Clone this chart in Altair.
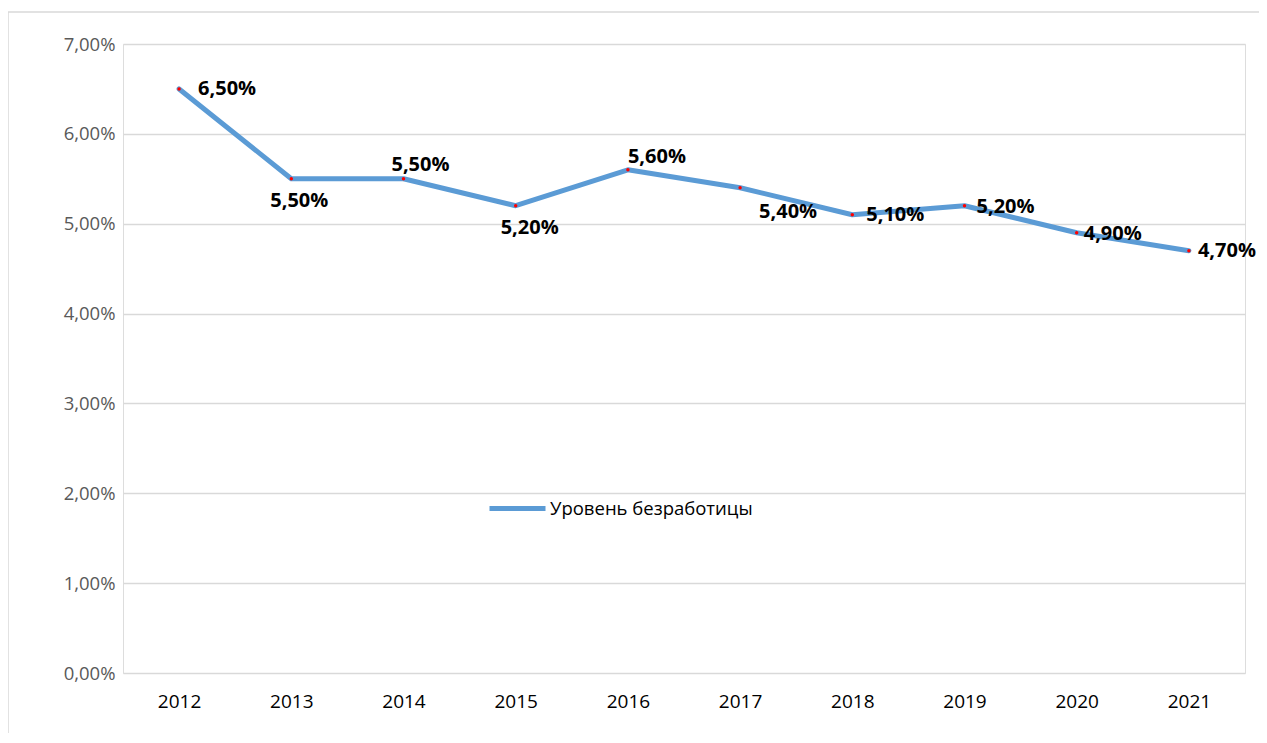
import altair as alt
import pandas as pd

years = ["2012", "2013", "2014", "2015", "2016", "2017", "2018", "2019", "2020", "2021"]
rates = [0.065, 0.055, 0.055, 0.052, 0.056, 0.054, 0.051, 0.052, 0.049, 0.047]
series_name = "Уровень безработицы"
y_ticks = [0, 0.01, 0.02, 0.03, 0.04, 0.05, 0.06, 0.07]

df = pd.DataFrame({"year": years, "rate": rates, "series": [series_name] * len(years)})

W, H = 1122, 629
FONT = "Open Sans"

x = alt.X("year:N", sort=years, title=None,
          scale=alt.Scale(type="point", padding=0.5),
          axis=alt.Axis(labelAngle=0, ticks=False, domain=False, grid=False,
                        labelPadding=19, labelFontSize=19, labelColor="#000000", labelFont=FONT))
y = alt.Y("rate:Q", title=None,
          scale=alt.Scale(domain=[0, 0.07], nice=False),
          axis=alt.Axis(values=y_ticks, ticks=False, domain=False,
                        gridColor="#D9D9D9", gridWidth=1.5,
                        labelExpr="replace(format(datum.value, '.2%'), '.', ',')",
                        labelPadding=8, labelFontSize=18.5, labelColor="#595959", labelFont=FONT))

base = alt.Chart(df)

line = base.mark_line(strokeWidth=5, strokeCap="round", strokeJoin="round").encode(
    x=x, y=y,
    color=alt.Color("series:N", scale=alt.Scale(range=["#5B9BD5"]), title=None,
                    legend=alt.Legend(orient="none", legendX=364, legendY=434,
                                      symbolType="stroke", symbolSize=3136,
                                      symbolStrokeWidth=5, labelFontSize=18.5,
                                      labelFont=FONT, labelColor="#000000",
                                      labelOffset=2, labelLimit=0))
)

points = base.mark_point(filled=True, size=12, color="#FF0000", opacity=1).encode(x=x, y=y)


def label_layer(sel, dx, dy, align="left"):
    return base.transform_filter(
        alt.FieldOneOfPredicate(field="year", oneOf=sel)
    ).transform_calculate(
        lbl="replace(format(datum.rate, '.2%'), '.', ',')"
    ).mark_text(fontWeight="bold", fontSize=20, font=FONT, color="#000000",
                align=align, baseline="middle", dx=dx, dy=dy).encode(
        x=x, y=y, text="lbl:N")


labels = [
    label_layer(["2012"], 19, 0),
    label_layer(["2021"], 9, 0),
    label_layer(["2018"], 14, 0),
    label_layer(["2019"], 12, 1),
    label_layer(["2020"], 7, 1),
    label_layer(["2013"], 8, 22, "center"),
    label_layer(["2015"], 14, 22, "center"),
    label_layer(["2014"], 17, -14, "center"),
    label_layer(["2016"], 29, -13, "center"),
    label_layer(["2017"], 48, 24, "center"),
]

one = pd.DataFrame({"a": [0]})
border_top = alt.Chart(one).mark_rule(stroke="#D9D9D9", strokeWidth=1.5).encode(
    x=alt.value(-115), x2=alt.value(W + 60), y=alt.value(-32))
border_left = alt.Chart(one).mark_rule(stroke="#D9D9D9", strokeWidth=1.5).encode(
    x=alt.value(-115), y=alt.value(-32), y2=alt.value(H + 120))

chart = alt.layer(border_top, border_left, line, points, *labels).properties(
    width=W, height=H,
    autosize=alt.AutoSizeParams(type="none"),
    padding={"left": 115, "top": 36, "right": 14, "bottom": 60},
).configure_view(stroke=None).configure(background="white")

chart.save("out.html", embed_options={"renderer": "svg", "actions": False})
